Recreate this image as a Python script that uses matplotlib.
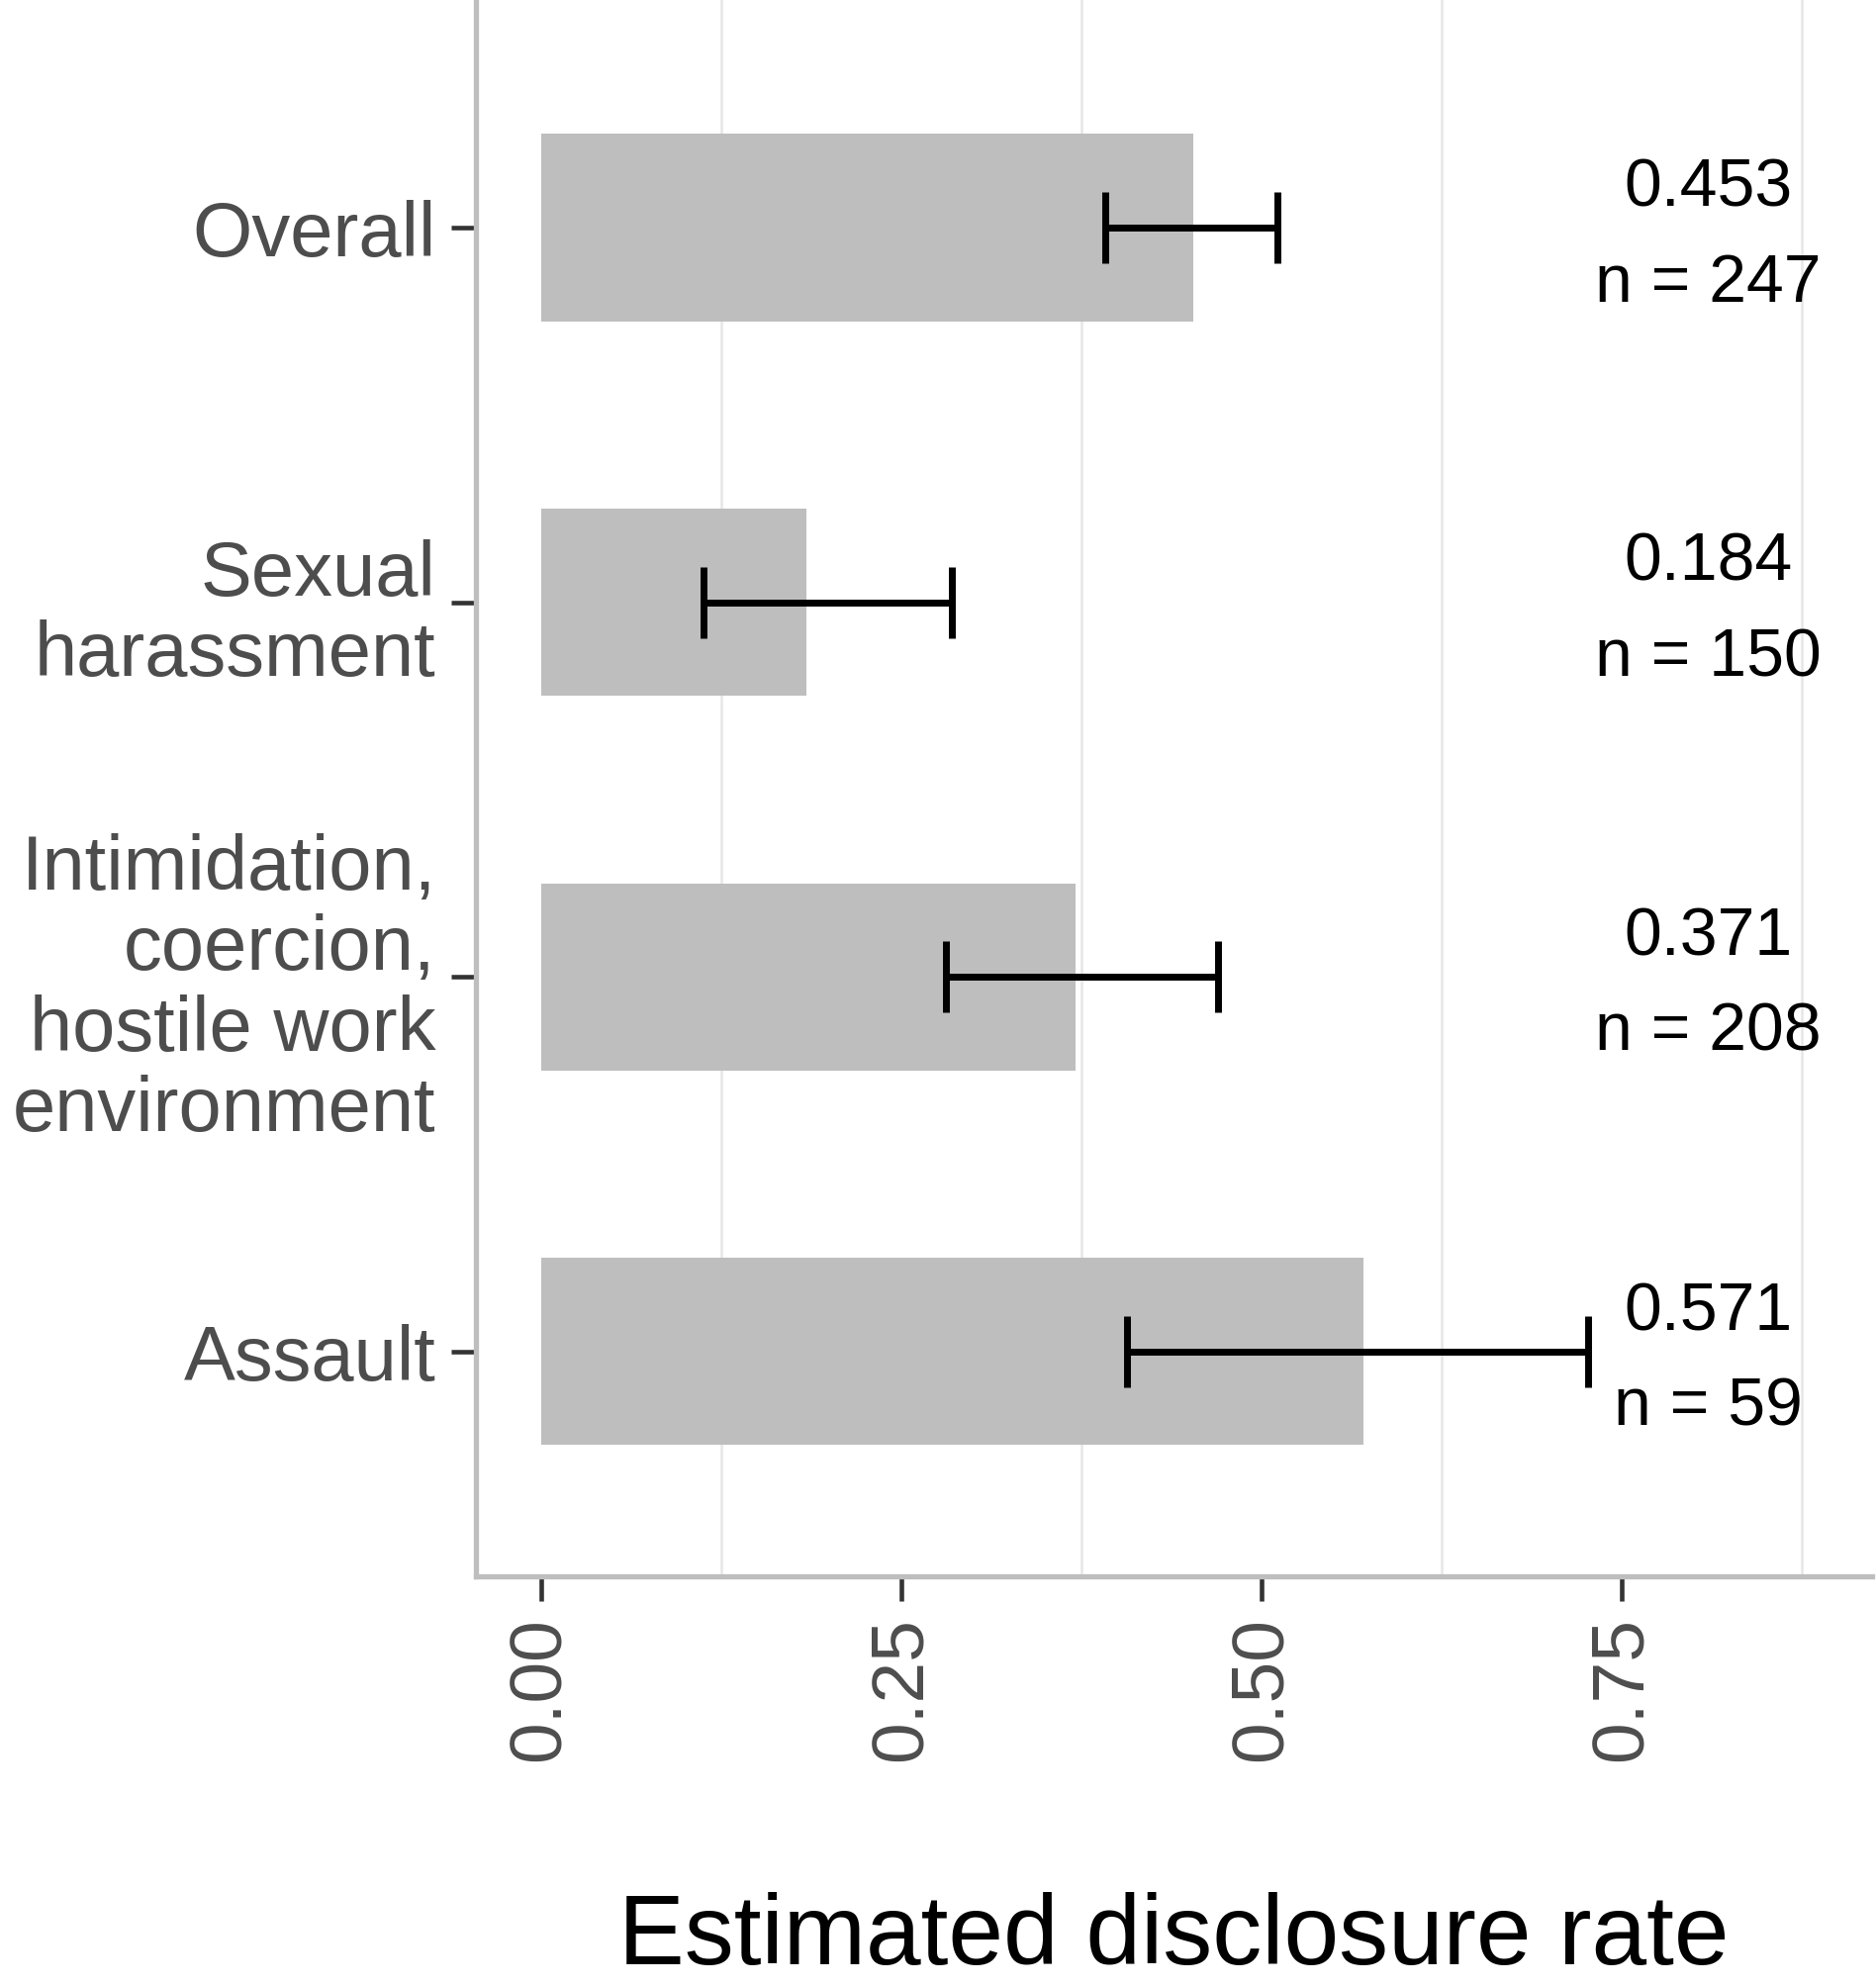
import matplotlib
matplotlib.use('Agg')
import matplotlib.pyplot as plt
import numpy as np

plt.rcParams['font.family'] = ['Liberation Sans', 'DejaVu Sans']

# ── Data ─────────────────────────────────────────────────────────────────────
categories = ['Overall', 'Sexual\nharassment',
              'Intimidation,\ncoercion,\nhostile work\nenvironment', 'Assault']
rates = [0.453, 0.184, 0.371, 0.571]
ci_low = [0.392, 0.113, 0.281, 0.407]
ci_high = [0.511, 0.285, 0.470, 0.727]
n_obs = [247, 150, 208, 59]
xticks = [0.00, 0.25, 0.50, 0.75]
label_x = 0.81

rates = np.array(rates)
err = [rates - np.array(ci_low), np.array(ci_high) - rates]
y = np.arange(len(categories))[::-1] + 1   # Overall on top

fig = plt.figure(figsize=(18.96, 20.08), dpi=100)
ax = fig.add_axes([0.2537, 0.2062, 0.7443, 0.7938])

ax.barh(y, rates, height=0.5, color='#BEBEBE', zorder=2)
ax.errorbar(rates, y, xerr=err, fmt='none', ecolor='black',
            elinewidth=5, capsize=26, capthick=5, zorder=3)

for yi, r, n in zip(y, rates, n_obs):
    ax.text(label_x, yi - 0.02, f'{r:.3f}\nn = {n}', ha='center', va='center',
            fontsize=49, color='black', linespacing=1.65, zorder=4)

# minor grid only (ggplot-style theme with major grid removed)
ax.set_xticks(xticks)
ax.set_xticks([0.125, 0.375, 0.625, 0.875], minor=True)
ax.grid(which='minor', axis='x', color='#E6E6E6', linewidth=1.8, zorder=0)
ax.tick_params(axis='x', which='minor', length=0)

ax.set_xticklabels([f'{t:.2f}' for t in xticks], rotation=90,
                   fontsize=54, color='#4D4D4D')
ax.set_yticks(y)
ax.set_yticklabels(categories, fontsize=56, color='#4D4D4D', linespacing=1.15)
ax.tick_params(axis='both', which='major', length=18, width=3.3,
               color='#333333', pad=11)

ax.set_xlim(-0.045, 0.924)
ax.set_ylim(0.4, 4.61)

for s in ('top', 'right'):
    ax.spines[s].set_visible(False)
for s in ('left', 'bottom'):
    ax.spines[s].set_color('#BEBEBE')
    ax.spines[s].set_linewidth(3.8)

ax.set_xlabel('Estimated disclosure rate', fontsize=72, color='black',
              labelpad=95)

fig.savefig('out.png', dpi=100)
